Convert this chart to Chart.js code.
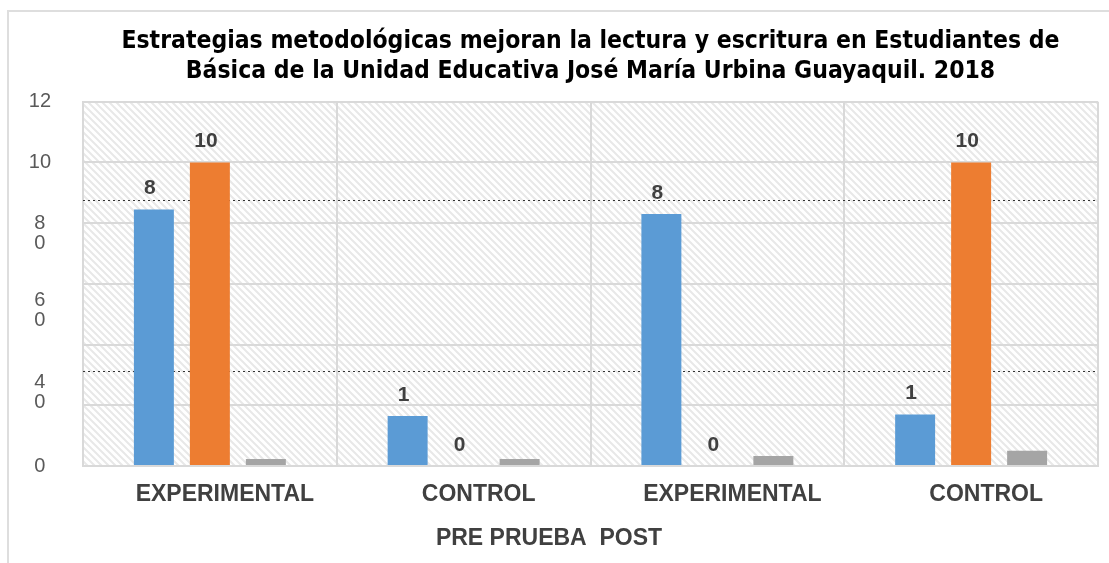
<!DOCTYPE html>
<html>
<head>
<meta charset="utf-8">
<script src="https://cdn.jsdelivr.net/npm/chart.js@4/dist/chart.umd.min.js"></script>
<style>
  html, body { margin: 0; padding: 0; background: #fff; }
  #frame { position: absolute; left: 7px; top: 10px; width: 1200px; height: 700px;
           border-left: 2px solid #dedede; border-top: 2px solid #dedede; }
  #wrap { position: absolute; left: 0; top: 0; width: 1109px; height: 563px; }
</style>
</head>
<body>
<div id="frame"></div>
<div id="wrap"><canvas id="myChart" width="1109" height="563"></canvas></div>
<script>
const categories = ['EXPERIMENTAL', 'CONTROL', 'EXPERIMENTAL', 'CONTROL'];
const blueValues = [8.45, 1.65, 8.3, 1.7];
const orangeValues = [10, 0, 0, 10];
const grayValues = [0.23, 0.23, 0.33, 0.5];
const blueLabels = ['8', '1', '8', '1'];
const orangeLabels = ['10', '0', '0', '10'];

// y axis: gridlines at even values, labels sit where the picture shows them
const gridValues = [0, 2, 4, 6, 8, 10, 12];
const yTickValues = [0, 2, 2.42, 4, 5.11, 6, 7.65, 8, 10, 12];
const yTickLabels = ['0', '', ['4', '0'], '', ['6', '0'], '', ['8', '0'], '', '10', '12'];
const dottedValues = [8.75, 3.13];

const titleLines = [
  'Estrategias metodológicas mejoran la lectura y escritura en Estudiantes de',
  'Básica de la Unidad Educativa José María Urbina Guayaquil. 2018'
];
const axisTitle = 'PRE PRUEBA  POST';

// hatched plot background
const patCanvas = document.createElement('canvas');
patCanvas.width = 7;
patCanvas.height = 7;
const pctx = patCanvas.getContext('2d');
pctx.fillStyle = '#ffffff';
pctx.fillRect(0, 0, 7, 7);
pctx.strokeStyle = '#e8e8e8';
pctx.lineWidth = 2;
pctx.beginPath();
pctx.moveTo(-1, -1); pctx.lineTo(8, 8);
pctx.moveTo(-8, -1); pctx.lineTo(1, 8);
pctx.moveTo(6, -1); pctx.lineTo(15, 8);
pctx.stroke();

const extras = {
  id: 'extras',
  beforeDraw(chart) {
    const { ctx, chartArea } = chart;
    ctx.save();
    ctx.fillStyle = ctx.createPattern(patCanvas, 'repeat');
    ctx.fillRect(chartArea.left, chartArea.top, chartArea.right - chartArea.left, chartArea.bottom - chartArea.top);
    ctx.restore();
  },
  beforeDatasetsDraw(chart) {
    const { ctx, chartArea, scales } = chart;
    ctx.save();
    ctx.strokeStyle = '#333';
    ctx.lineWidth = 1;
    ctx.setLineDash([2, 3]);
    dottedValues.forEach(v => {
      const y = Math.round(scales.y.getPixelForValue(v)) + 0.5;
      ctx.beginPath();
      ctx.moveTo(chartArea.left, y);
      ctx.lineTo(chartArea.right, y);
      ctx.stroke();
    });
    ctx.restore();
  },
  afterDatasetsDraw(chart) {
    const ctx = chart.ctx;
    ctx.save();
    ctx.font = 'bold 21px "Liberation Sans", Arial, sans-serif';
    ctx.fillStyle = '#404040';
    ctx.textAlign = 'center';
    ctx.textBaseline = 'middle';
    [blueLabels, orangeLabels].forEach((labels, di) => {
      chart.getDatasetMeta(di).data.forEach((bar, i) => {
        ctx.fillText(labels[i], bar.x - 4, bar.y - 21);
      });
    });
    ctx.restore();
  }
};

const ctx = document.getElementById('myChart').getContext('2d');
const myChart = new Chart(ctx, {
  type: 'bar',
  data: {
    labels: categories,
    datasets: [
      { label: 'Serie 1', data: blueValues, backgroundColor: '#5b9bd5' },
      { label: 'Serie 2', data: orangeValues, backgroundColor: '#ed7d31' },
      { label: 'Serie 3', data: grayValues, backgroundColor: '#a5a5a5' },
    ],
  },
  options: {
    responsive: false,
    animation: false,
    layout: { padding: { left: 0, right: 11, top: 0, bottom: 0 } },
    datasets: {
      bar: { categoryPercentage: 0.662, barPercentage: 0.714 },
    },
    plugins: {
      legend: { display: false },
      tooltip: { enabled: false },
      title: {
        display: true,
        text: titleLines,
        fullSize: false,
        color: '#000',
        font: { family: '"Liberation Sans Narrow", "DejaVu Sans Condensed", sans-serif', size: 24.5, weight: 'bold', lineHeight: 1.22 },
        padding: { top: 27, bottom: 15 },
      },
      subtitle: {
        display: true,
        text: axisTitle,
        position: 'bottom',
        color: '#404040',
        font: { family: '"Liberation Sans", Arial, sans-serif', size: 23, weight: 'bold', lineHeight: 1.0 },
        padding: { top: 0, bottom: 13 },
      },
    },
    scales: {
      x: {
        afterFit: scale => { scale.height = 61; },
        grid: { color: '#d9d9d9', lineWidth: 2, drawTicks: false },
        border: { color: '#d9d9d9', width: 2 },
        ticks: {
          color: '#404040',
          padding: 15,
          labelOffset: 15,
          maxRotation: 0,
          font: { family: '"Liberation Sans", Arial, sans-serif', size: 23, weight: 'bold' },
        },
      },
      y: {
        min: 0,
        max: 12,
        afterFit: scale => { scale.width = 83; },
        afterBuildTicks: scale => { scale.ticks = yTickValues.map(v => ({ value: v })); },
        grid: {
          color: c => gridValues.includes(c.tick.value) ? '#d9d9d9' : 'rgba(0,0,0,0)',
          lineWidth: 2,
          drawTicks: false,
        },
        border: { color: '#d9d9d9', width: 2 },
        ticks: {
          autoSkip: false,
          color: '#595959',
          crossAlign: 'center',
          padding: 32,
          font: { family: '"Liberation Sans", Arial, sans-serif', size: 20, lineHeight: 1.0 },
          callback: (value, index) => yTickLabels[index],
        },
      },
    },
  },
  plugins: [extras],
});
</script>
</body>
</html>
